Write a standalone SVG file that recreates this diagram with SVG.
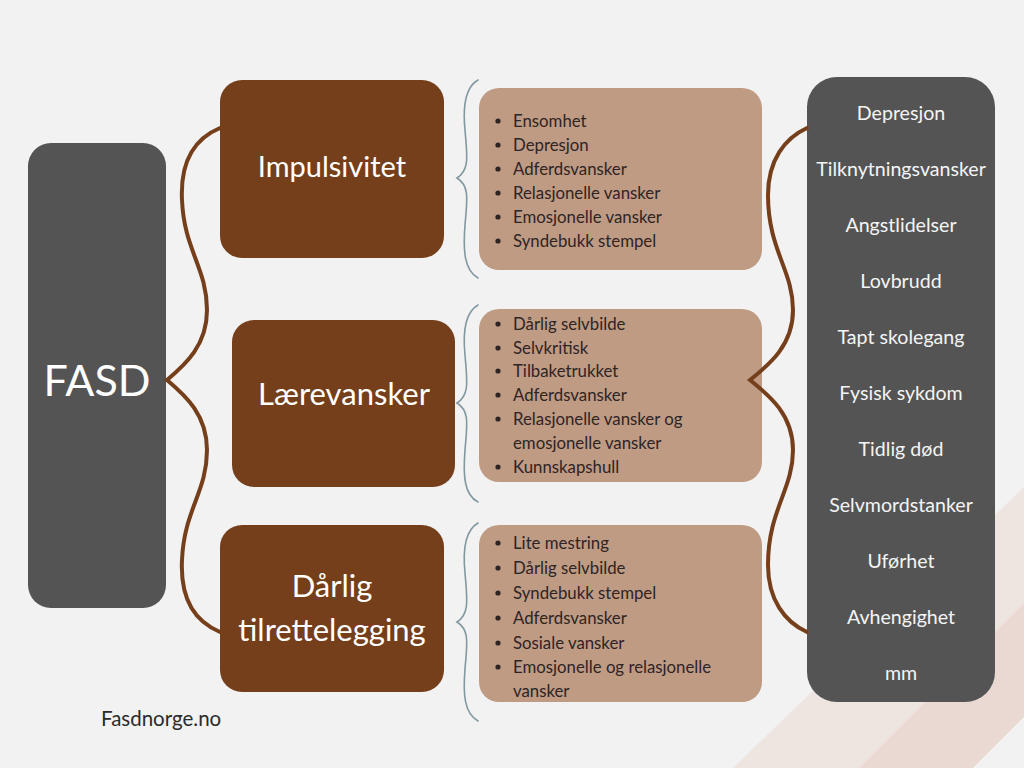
<svg xmlns="http://www.w3.org/2000/svg" width="1024" height="768" viewBox="0 0 1024 768">
<style>
.bg{fill:#F2F2F2}
.grey{fill:#545454}
.brown{fill:#753F1C}
.tan{fill:#BF9B84}
.wt{fill:#FFFFFF;font-family:Lato,"Open Sans",sans-serif;text-anchor:middle}
.lt{fill:#F4F4F4;font-family:Lato,"Open Sans",sans-serif;font-size:19.6px;text-anchor:middle}
.li{fill:#2E2424;font-family:Lato,"Open Sans",sans-serif;font-size:16.8px}
.dot{fill:#2E2424}
.bb{fill:none;stroke:#753F1C;stroke-width:4;stroke-linecap:round}
.sb{fill:none;stroke:#8198A0;stroke-width:1.6;stroke-linecap:round}
</style>
<rect class="bg" x="0" y="0" width="1024" height="768"/>
<polygon points="733,768 1024,487 1024,603 859,768" fill="#EEE4E0"/>
<polygon points="859,768 1024,603 1024,717 973,768" fill="#EAD9D2"/>

<g id="fasd">
<rect class="grey" x="28" y="143" width="138" height="465" rx="23"/>
<text class="wt" x="97" y="396" font-size="43">FASD</text>
</g>

<g id="impulsivitet">
<rect class="brown" x="220" y="80" width="224" height="178" rx="22"/>
<text class="wt" x="332" y="177" font-size="29">Impulsivitet</text>
</g>

<g id="laerevansker">
<rect class="brown" x="232" y="320" width="223" height="167" rx="22"/>
<text class="wt" x="344" y="405" font-size="31">Lærevansker</text>
</g>

<g id="darlig">
<rect class="brown" x="220" y="525" width="224" height="167" rx="22"/>
<text class="wt" x="332" y="597" font-size="31">Dårlig</text>
<text class="wt" x="332" y="641" font-size="31">tilrettelegging</text>
</g>

<g id="list1">
<rect class="tan" x="479" y="88" width="283" height="182" rx="20"/>
<circle class="dot" cx="498" cy="121" r="2.6"/>
<circle class="dot" cx="498" cy="145" r="2.6"/>
<circle class="dot" cx="498" cy="169" r="2.6"/>
<circle class="dot" cx="498" cy="193" r="2.6"/>
<circle class="dot" cx="498" cy="217" r="2.6"/>
<circle class="dot" cx="498" cy="241" r="2.6"/>
<text class="li" x="513" y="127">Ensomhet</text>
<text class="li" x="513" y="151">Depresjon</text>
<text class="li" x="513" y="175">Adferdsvansker</text>
<text class="li" x="513" y="199">Relasjonelle vansker</text>
<text class="li" x="513" y="223">Emosjonelle vansker</text>
<text class="li" x="513" y="247">Syndebukk stempel</text>
</g>

<g id="list2">
<rect class="tan" x="479" y="309" width="283" height="173" rx="20"/>
<circle class="dot" cx="498" cy="324" r="2.6"/>
<circle class="dot" cx="498" cy="348" r="2.6"/>
<circle class="dot" cx="498" cy="371" r="2.6"/>
<circle class="dot" cx="498" cy="395" r="2.6"/>
<circle class="dot" cx="498" cy="419" r="2.6"/>
<circle class="dot" cx="498" cy="467" r="2.6"/>
<text class="li" x="513" y="330">Dårlig selvbilde</text>
<text class="li" x="513" y="354">Selvkritisk</text>
<text class="li" x="513" y="377">Tilbaketrukket</text>
<text class="li" x="513" y="401">Adferdsvansker</text>
<text class="li" x="513" y="425">Relasjonelle vansker og</text>
<text class="li" x="513" y="449">emosjonelle vansker</text>
<text class="li" x="513" y="473">Kunnskapshull</text>
</g>

<g id="list3">
<rect class="tan" x="479" y="525" width="283" height="177" rx="20"/>
<circle class="dot" cx="498" cy="543" r="2.6"/>
<circle class="dot" cx="498" cy="568" r="2.6"/>
<circle class="dot" cx="498" cy="593" r="2.6"/>
<circle class="dot" cx="498" cy="618" r="2.6"/>
<circle class="dot" cx="498" cy="643" r="2.6"/>
<circle class="dot" cx="498" cy="667" r="2.6"/>
<text class="li" x="513" y="549">Lite mestring</text>
<text class="li" x="513" y="574">Dårlig selvbilde</text>
<text class="li" x="513" y="599">Syndebukk stempel</text>
<text class="li" x="513" y="624">Adferdsvansker</text>
<text class="li" x="513" y="649">Sosiale vansker</text>
<text class="li" x="513" y="673">Emosjonelle og relasjonelle</text>
<text class="li" x="513" y="697">vansker</text>
</g>

<g id="outcomes">
<rect class="grey" x="807" y="77" width="188" height="625" rx="30"/>
<text class="lt" x="901" y="120">Depresjon</text>
<text class="lt" x="901" y="176">Tilknytningsvansker</text>
<text class="lt" x="901" y="232">Angstlidelser</text>
<text class="lt" x="901" y="288">Lovbrudd</text>
<text class="lt" x="901" y="344">Tapt skolegang</text>
<text class="lt" x="901" y="400">Fysisk sykdom</text>
<text class="lt" x="901" y="456">Tidlig død</text>
<text class="lt" x="901" y="512">Selvmordstanker</text>
<text class="lt" x="901" y="568">Uførhet</text>
<text class="lt" x="901" y="624">Avhengighet</text>
<text class="lt" x="901" y="680">mm</text>
</g>

<g id="connectors">
<path class="bb" d="M220,128 C196,138 180,160 182,200 C184,250 207,268 207,310 C207,345 186,364 167,380 C186,396 207,415 207,450 C207,492 184,510 182,560 C180,600 196,622 220,632"/>
<path class="bb" d="M807,128 C785,138 768,160 768,195 C768,250 793,270 793,310 C793,345 770,364 750,380 C770,396 793,415 793,450 C793,490 768,510 768,565 C768,600 785,622 807,632"/>
<path class="sb" d="M478,80 C464,88 463,110 465,130 C467,155 470,170 457,178 C470,186 467,200 465,225 C463,250 464,270 478,278"/>
<path class="sb" d="M478,305 C464,313 463,335 465,355 C467,380 470,395 457,403 C470,411 467,425 465,450 C463,475 464,495 478,502"/>
<path class="sb" d="M478,523 C464,531 463,553 465,573 C467,598 470,614 457,622 C470,630 467,644 465,669 C463,694 464,713 478,721"/>
</g>

<g id="footer">
<text x="101" y="726" font-family="Lato,'Open Sans',sans-serif" font-size="20.5" fill="#2B2B2B">Fasdnorge.no</text>
</g>
</svg>
